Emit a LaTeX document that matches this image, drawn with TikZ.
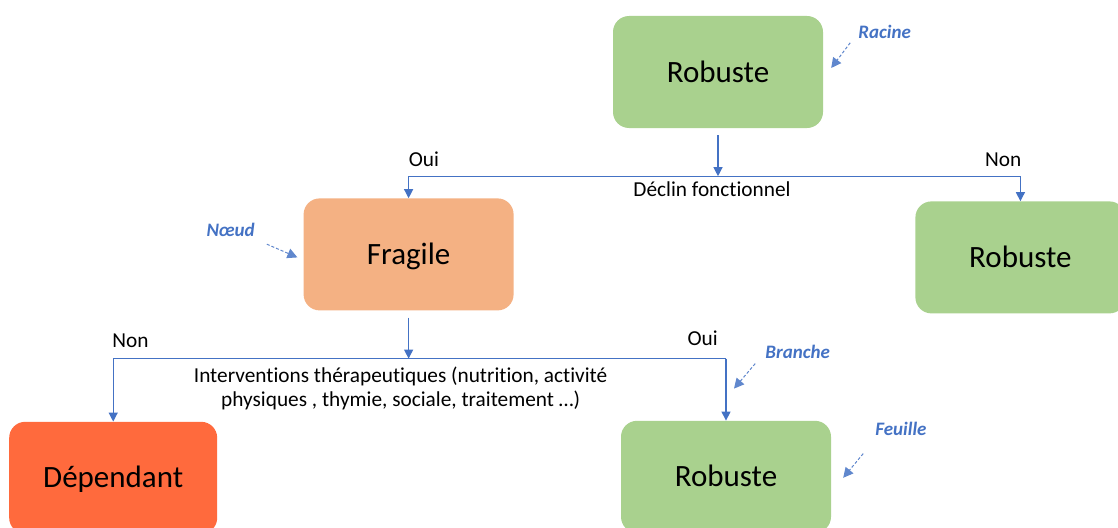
\documentclass[tikz,border=0pt]{standalone}
\usepackage{fontspec}
\setmainfont{Carlito}[Ligatures=NoCommon]
\usetikzlibrary{positioning, calc}
\usetikzlibrary{arrows, arrows.meta}
\definecolor{vert}{HTML}{A9D18E}
\definecolor{saumon}{HTML}{F4B183}
\definecolor{rouge}{HTML}{FF6A3D}
\definecolor{bleu}{HTML}{4472C4}

\begin{document}
\begin{tikzpicture}[x=1pt, y=-1pt,
  box/.style={rectangle, rounded corners=16pt, minimum width=210pt, minimum height=112pt, text height=20pt, text depth=0pt, font=\fontsize{31}{36}\selectfont},
  link/.style={draw=bleu, line width=1.2pt},
  arr/.style={-{Triangle[length=9pt, width=9pt]}},
  lbl/.style={inner sep=0pt, font=\fontsize{21.3}{24}\selectfont},
  note/.style={inner sep=0pt, text=bleu, font=\fontsize{19}{22}\selectfont\bfseries\itshape},
  noteline/.style={draw=bleu!85, dash pattern=on 3pt off 2pt, line width=1pt, -{Triangle[length=10pt, width=10pt]}}]
\useasboundingbox (0,0) rectangle (1118,527);
\node[box, fill=vert] (root) at (718,72) {Robuste};
\node[box, fill=saumon, below left=70pt and 99pt of root] (frag) {Fragile};
\node[box, fill=vert, below right=73pt and 92pt of root] (rob) {Robuste};
\node[box, fill=rouge, minimum width=208pt, below left=111pt and 86pt of frag] (dep) {Dépendant};
\node[box, fill=vert, below right=110pt and 107pt of frag] (leaf) {Robuste};

\coordinate (j1) at ($(root.south)+(0,48)$);
\coordinate (c1) at (frag.north |- j1);
\coordinate (c2) at (rob.north |- j1);
\draw[link, arr] ([yshift=-7pt]root.south) -- (j1);
\draw[link] (c1) -- (c2);
\draw[link, arr] (c1) -- (frag.north);
\draw[link, arr] (c2) -- (rob.north);
\node[lbl, anchor=base west] (oui1) at ($(c1)+(0,-10)$) {Oui};
\node[lbl, anchor=base east] (non1) at ($(c2)+(1,-10)$) {Non};
\node[lbl, anchor=base] (declin) at ($(j1)+(-6,20)$) {Déclin fonctionnel};

\coordinate (j2) at ($(frag.south)+(0,48)$);
\coordinate (c3) at (dep.north |- j2);
\coordinate (c4) at (leaf.north |- j2);
\draw[link, arr] ([yshift=-7pt]frag.south) -- (j2);
\draw[link] (c3) -- (c4);
\draw[link, arr] (c3) -- (dep.north);
\draw[link, arr] (c4) -- (leaf.north);
\node[lbl, anchor=base west] (non2) at ($(c3)+(-1,-11)$) {Non};
\node[lbl, anchor=base east] (oui2) at ($(c4)+(-8,-13)$) {Oui};
\node[lbl, anchor=north, align=center] (interv) at ($(j2)+(-8,8)$) {Interventions thérapeutiques (nutrition, activité\\physiques , thymie, sociale, traitement …)};

\node[note, anchor=base west] (racine) at ($(root.north east)+(35,23)$) {Racine};
\node[note, anchor=base west] (noeud) at ($(frag.north west)+(-97,38)$) {Nœud};
\node[note, anchor=base west] (branche) at ($(leaf.north east)+(-66,-62)$) {Branche};
\node[note, anchor=base west] (feuille) at ($(leaf.north east)+(44,15)$) {Feuille};
\coordinate (racine-tip) at ($(root.east)+(8,-4)$);
\coordinate (noeud-tip) at ($(frag.west)+(-6,3)$);
\coordinate (branche-tip) at ($(leaf.north)+(8,-32)$);
\coordinate (feuille-tip) at ($(leaf.east)+(12,1)$);
\draw[noteline] ($(racine.base west)+(-8,4)$) -- (racine-tip);
\draw[noteline] ($(noeud.base east)+(12,8)$) -- (noeud-tip);
\draw[noteline] ($(branche.base west)+(-10,5)$) -- (branche-tip);
\draw[noteline] ($(feuille.base west)+(-12,18)$) -- (feuille-tip);
\end{tikzpicture}
\end{document}
